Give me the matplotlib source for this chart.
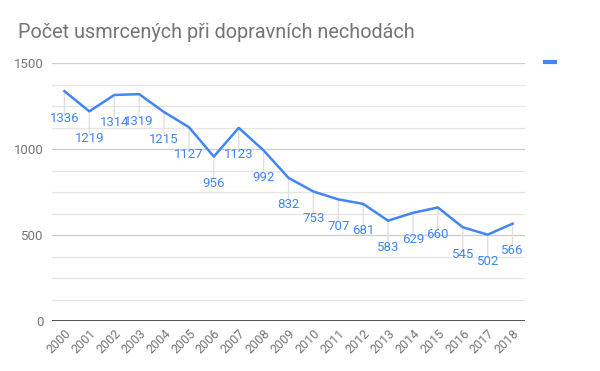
import matplotlib
matplotlib.use("Agg")
import matplotlib.pyplot as plt

plt.rcParams['font.family'] = ['Roboto', 'DejaVu Sans']

years = [str(y) for y in range(2000, 2019)]
deaths = [1336, 1219, 1314, 1319, 1215, 1127, 956, 1123, 992, 832,
          753, 707, 681, 583, 629, 660, 545, 502, 566]
title = "Počet usmrcených při dopravních nechodách"

blue = '#4285f4'
fig = plt.figure(figsize=(6, 3.71), dpi=100)
ax = fig.add_axes([52 / 600, 50 / 371, 473 / 600, 258 / 371])
x = list(range(len(years)))

ax.set_ylim(0, 1500)
ax.set_xlim(-0.5, len(years) - 0.5)
for v in range(125, 1500, 125):
    major = v % 500 == 0
    ax.axhline(v, color='#cccccc' if major else '#e5e5e5', lw=0.9, zorder=0)
ax.axhline(1500, color='#cccccc', lw=0.9, zorder=0)
ax.axhline(0, color='#333333', lw=1.2, zorder=1)

ax.plot(x, deaths, color=blue, lw=1.8, zorder=3)

for xi, v in zip(x, deaths):
    ax.annotate('', xy=(xi, v), xytext=(0, -16), textcoords='offset points',
                arrowprops=dict(arrowstyle='-', color='#e0e0e0', lw=1,
                                shrinkA=0, shrinkB=0), zorder=2)
    ax.annotate(str(v), xy=(xi, v), xytext=(0, -19.5), textcoords='offset points',
                ha='center', va='center', color=blue, fontsize=9.5, zorder=4)

for s in ax.spines.values():
    s.set_visible(False)
ax.set_yticks([0, 500, 1000, 1500])
ax.set_xticks(x)
ax.set_xticklabels(years, rotation=45, ha='right', rotation_mode='anchor')
ax.tick_params(length=0, colors='#757575', labelsize=9)
ax.tick_params(axis='y', pad=6, labelsize=9.5)
ax.tick_params(axis='x', pad=4)

fig.text(18 / 600, 1 - 32 / 371, title, fontsize=14.3, color='#757575', va='center')
fig.add_artist(plt.Line2D([545 / 600, 555 / 600], [1 - 62 / 371] * 2,
                          color=blue, lw=3, transform=fig.transFigure))

fig.savefig('out.png', dpi=100)
